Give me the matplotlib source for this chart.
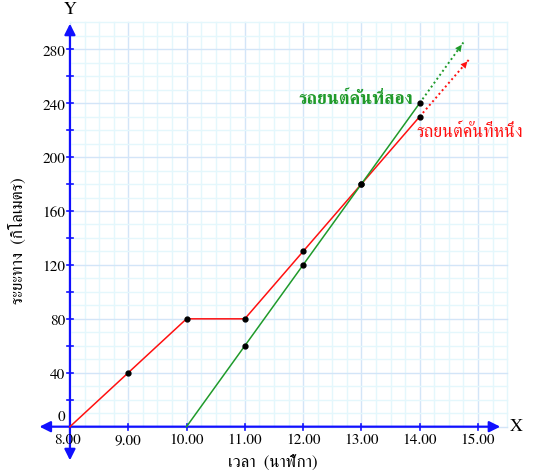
import numpy as np
import matplotlib
matplotlib.use("Agg")
import matplotlib.pyplot as plt

plt.rcParams["font.family"] = ["FreeSerif", "Liberation Serif", "DejaVu Serif"]

# car 1 (red) and car 2 (green): time (hour) vs distance (km)
car1_time = [8, 9, 10, 11, 12, 13, 14]
car1_dist = [0, 40, 80, 80, 130, 180, 230]
car1_dots = [9, 10, 11, 12, 13, 14]
car2_time = [10, 11, 12, 13, 14]
car2_dist = [0, 60, 120, 180, 240]
car2_dots = [11, 12, 13, 14]
# where the dotted continuation ends (arrow tip)
car1_tip = (14.85, 272.5)
car2_tip = (14.75, 285)

x_ticks = [8, 9, 10, 11, 12, 13, 14, 15]
x_labels = ["8.00", "9.00", "10.00", "11.00", "12.00", "13.00", "14.00", "15.00"]
y_ticks = [0, 40, 80, 120, 160, 200, 240, 280]

car1_name = "รถยนต์คันที่หนึ่ง"
car2_name = "รถยนต์คันที่สอง"
x_title = "เวลา  (นาฬิกา)"
y_title = "ระยะทาง  (กิโลเมตร)"

RED = "#ff1010"
GREEN = "#1f9a2a"
BLUE = "#1010ff"

fig = plt.figure(figsize=(5.38, 4.74), dpi=100)
ax = fig.add_axes([0, 0, 1, 1])
ax.set_xlim(6.80, 16.03)
ax.set_ylim(-35.1, 316.5)
ax.axis("off")

# graph paper
for x in np.arange(8, 15.51, 0.25):
    major = abs(x - round(x)) < 1e-9
    ax.plot([x, x], [0, 300], color="#d3e5f8" if major else "#e4f7fc", lw=1.0, zorder=0)
for y in np.arange(0, 301, 10):
    major = y % 40 == 0
    ax.plot([8, 15.5], [y, y], color="#d3e5f8" if major else "#e4f7fc", lw=1.0, zorder=0)

# axes with arrows
head = "<|-|>,head_length=0.5,head_width=0.25"
ax.annotate("", xy=(15.43, 0), xytext=(7.43, 0),
            arrowprops=dict(arrowstyle=head, color=BLUE, lw=1.6, mutation_scale=13))
ax.annotate("", xy=(8, 301), xytext=(8, -27),
            arrowprops=dict(arrowstyle=head, color=BLUE, lw=1.6, mutation_scale=13))
for x in x_ticks[1:]:
    ax.plot([x, x], [-2.2, 2.2], color=BLUE, lw=1.2)
for y in range(20, 300, 20):
    ax.plot([7.95, 8.05], [y, y], color=BLUE, lw=1.2)

# tick labels
for x, lab in zip(x_ticks, x_labels):
    ax.text(x - (0.05 if x == 8 else 0), -5, lab, ha="center", va="top", fontsize=11)
for y in y_ticks:
    ax.text(7.92, y + (7 if y == 0 else -2), str(y), ha="right", va="center", fontsize=11)
ax.text(15.55, 0, "X", ha="left", va="center", fontsize=13)
ax.text(8, 303, "Y", ha="center", va="bottom", fontsize=13)
ax.text(11.48, -27, x_title, ha="center", va="center", fontsize=12)
ax.text(7.1, 138, y_title, ha="center", va="center", fontsize=12, rotation=90)

# the two cars
ax.plot(car1_time, car1_dist, color=RED, lw=1.1, zorder=3)
ax.plot(car2_time, car2_dist, color=GREEN, lw=1.1, zorder=3)
for tt, dd, tip, c in [(car1_time, car1_dist, car1_tip, RED), (car2_time, car2_dist, car2_tip, GREEN)]:
    ax.plot([tt[-1], tip[0]], [dd[-1], tip[1]], color=c, lw=1.4, ls=(0, (1, 1.5)), zorder=3)
    back = (tip[0] - 0.12, tip[1] - 0.12 * (tip[1] - dd[-1]) / (tip[0] - tt[-1]))
    ax.annotate("", xy=tip, xytext=back,
                arrowprops=dict(arrowstyle="-|>", color=c, lw=0, mutation_scale=12))

ax.plot(car1_dots, [car1_dist[car1_time.index(t)] for t in car1_dots], "o",
        color="black", ms=3.5, zorder=4)
ax.plot(car2_dots, [car2_dist[car2_time.index(t)] for t in car2_dots], "o",
        color="black", ms=3.5, zorder=4)

ax.text(13.88, 243, car2_name, color=GREEN, ha="right", va="center", fontsize=13, fontweight="bold")
ax.text(13.95, 218, car1_name, color=RED, ha="left", va="center", fontsize=13)

fig.savefig("out.png", dpi=100)
